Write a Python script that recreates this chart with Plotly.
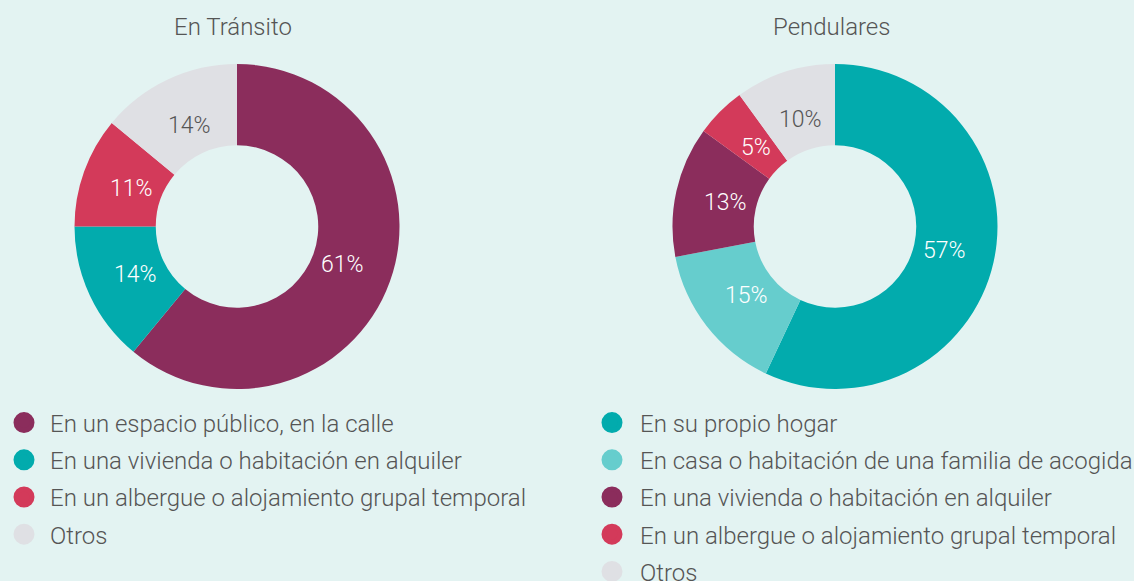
import math
import plotly.graph_objects as go

# Data
titulo_izq = "En Tránsito"
titulo_der = "Pendulares"

cat_transito = [
    "En un espacio público, en la calle",
    "En una vivienda o habitación en alquiler",
    "En un albergue o alojamiento grupal temporal",
    "Otros",
]
val_transito = [61, 14, 11, 14]
col_transito = ["#8b2d5c", "#02abad", "#d33a5a", "#dfe0e4"]

cat_pendulares = [
    "En su propio hogar",
    "En casa o habitación de una familia de acogida",
    "En una vivienda o habitación en alquiler",
    "En un albergue o alojamiento grupal temporal",
    "Otros",
]
val_pendulares = [57, 15, 13, 5, 10]
col_pendulares = ["#02abad", "#66cdcd", "#8b2d5c", "#d33a5a", "#dfe0e4"]

BG = "#e3f3f2"
TXT = "#555555"
FONT = "Roboto"

W, H = 1134, 581
R_OUT = 162.5        # donut outer radius, px
LABEL_R = 0.69       # radial position of the value labels, fraction of R_OUT


def txt_color(cat):
    return TXT if cat == "Otros" else "#ffffff"


def donut(fig, cats, vals, cols, cx, cy):
    """Donut centred at (cx, cy) px from the top-left, with value labels."""
    fig.add_trace(go.Pie(
        labels=cats, values=vals,
        marker=dict(colors=cols, line=dict(width=0)),
        hole=0.5, sort=False, direction="clockwise", rotation=0,
        textinfo="none", showlegend=False, hoverinfo="label+percent",
        domain=dict(x=[(cx - R_OUT) / W, (cx + R_OUT) / W],
                    y=[(H - cy - R_OUT) / H, (H - cy + R_OUT) / H]),
    ))
    total = sum(vals)
    acc = 0
    for c, v in zip(cats, vals):
        mid = (acc + v / 2) / total * 2 * math.pi
        acc += v
        px = cx + LABEL_R * R_OUT * math.sin(mid)
        py = cy - LABEL_R * R_OUT * math.cos(mid)
        fig.add_annotation(
            text=f"{v}%", x=px / W, y=1 - py / H, xref="paper", yref="paper",
            showarrow=False, xanchor="center", yanchor="middle",
            font=dict(family=FONT, size=23, weight=300, color=txt_color(c)),
        )


fig = go.Figure()
donut(fig, cat_transito, val_transito, col_transito, 237, 226.5)
donut(fig, cat_pendulares, val_pendulares, col_pendulares, 835, 226.5)

# Legend entries with round markers, one group per entry for spacing control
for i, (c, col) in enumerate(zip(cat_transito, col_transito)):
    fig.add_trace(go.Scatter(
        x=[None], y=[None], mode="markers", name=c,
        marker=dict(symbol="circle", size=16, color=col, line=dict(width=9, color=col)),
        legend="legend", legendgroup=f"t{i}", showlegend=True, hoverinfo="skip",
    ))
for i, (c, col) in enumerate(zip(cat_pendulares, col_pendulares)):
    fig.add_trace(go.Scatter(
        x=[None], y=[None], mode="markers", name=c,
        marker=dict(symbol="circle", size=16, color=col, line=dict(width=9, color=col)),
        legend="legend2", legendgroup=f"p{i}", showlegend=True, hoverinfo="skip",
    ))

leg_common = dict(
    xanchor="left", yanchor="top",
    bgcolor="rgba(0,0,0,0)", borderwidth=0,
    font=dict(family=FONT, size=24, weight=300, color=TXT),
    tracegroupgap=3, itemsizing="trace",
)

fig.update_layout(
    width=W, height=H,
    margin=dict(l=0, r=0, t=0, b=0, autoexpand=False),
    paper_bgcolor=BG, plot_bgcolor=BG,
    font=dict(family=FONT, weight=300, color=TXT),
    xaxis=dict(visible=False), yaxis=dict(visible=False),
    legend=dict(x=-2 / W, y=1 - 400.5 / H, itemwidth=42, **leg_common),
    legend2=dict(x=584 / W, y=1 - 400.5 / H, itemwidth=46, **leg_common),
)
fig.add_annotation(text=titulo_izq, x=233 / W, y=1 - 27 / H, xref="paper", yref="paper",
                   showarrow=False, xanchor="center", yanchor="middle",
                   font=dict(family=FONT, size=24, weight=300, color=TXT))
fig.add_annotation(text=titulo_der, x=831 / W, y=1 - 27 / H, xref="paper", yref="paper",
                   showarrow=False, xanchor="center", yanchor="middle",
                   font=dict(family=FONT, size=24, weight=300, color=TXT))

fig.write_html("out.html")
